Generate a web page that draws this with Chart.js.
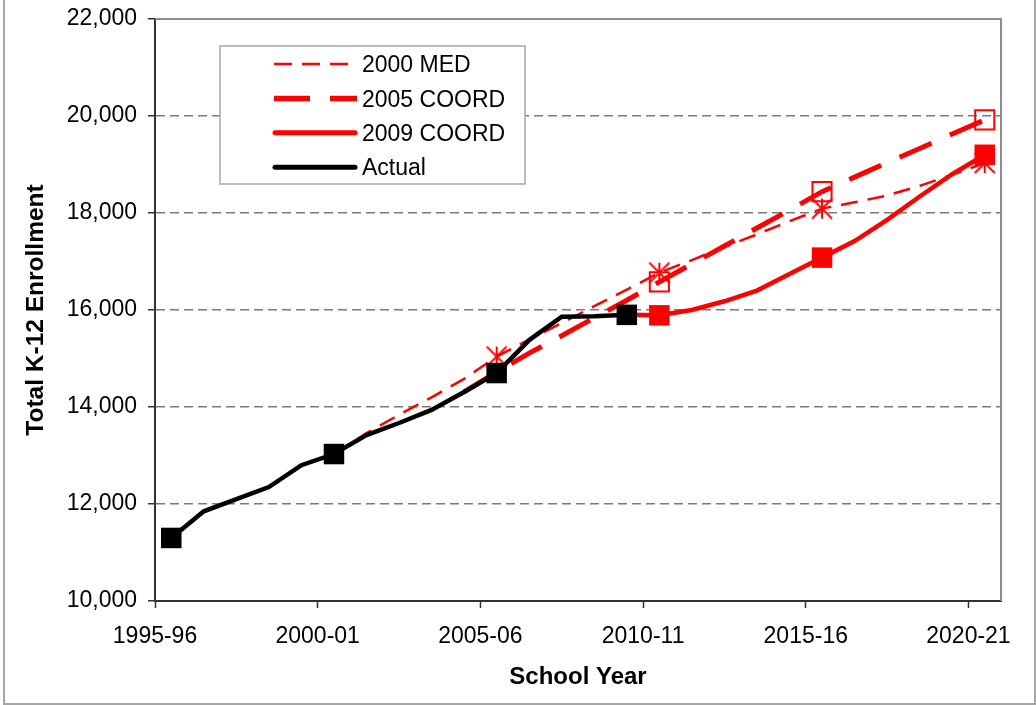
<!DOCTYPE html>
<html>
<head>
<meta charset="utf-8">
<title>Total K-12 Enrollment</title>
<script src="https://cdn.jsdelivr.net/npm/chart.js@4.4.1/dist/chart.umd.min.js"></script>
<style>
  html, body { margin: 0; padding: 0; background: #fff; }
  #wrap { width: 1036px; height: 705px; position: relative; }
  canvas { display: block; }
</style>
</head>
<body>
<div id="wrap"><canvas id="chart" width="1036" height="705"></canvas></div>
<script>
// School years on the category axis (one slot per year)
const schoolYears = [
  '1995-96','1996-97','1997-98','1998-99','1999-00','2000-01','2001-02','2002-03',
  '2003-04','2004-05','2005-06','2006-07','2007-08','2008-09','2009-10','2010-11',
  '2011-12','2012-13','2013-14','2014-15','2015-16','2016-17','2017-18','2018-19',
  '2019-20','2020-21'
];
// Labelled years along the x axis
const xTickLabels = ['1995-96','2000-01','2005-06','2010-11','2015-16','2020-21'];
// Enrollment gridline values
const yTickValues = [10000, 12000, 14000, 16000, 18000, 20000, 22000];

// Enrollment series (null = no value that year)
const actual = [
  11300, 11850, 12100, 12350, 12800, 13030, 13420, 13670, 13940, 14310,
  14700, 15380, 15860, 15870, 15900,
  null, null, null, null, null, null, null, null, null, null, null
];
const med2000 = [
  null, null, null, null, null,
  13030, 13460, 13840, 14200, 14580, 15040, 15390, 15730, 16080, 16420,
  16770, 17030, 17300, 17560, 17830, 18090, 18220, 18360, 18560, 18790, 19030
];
const coord2005 = [
  null, null, null, null, null, null, null, null, null,
  14310, 14720, 15110, 15470, 15840, 16200, 16580, 16950, 17320, 17690,
  18060, 18440, 18740, 19040, 19330, 19630, 19920
];
const coord2009 = [
  null, null, null, null, null, null, null, null, null, null, null, null, null, null,
  15900, 15890, 16000, 16180, 16400, 16740, 17080, 17420, 17860, 18340, 18800, 19200
];

// Years that carry a marker on each series
const actualMarks = ['1995-96', '2000-01', '2005-06', '2009-10'];
const med2000Marks = ['2005-06', '2010-11', '2015-16', '2020-21'];
const coord2005Marks = ['2010-11', '2015-16', '2020-21'];
const coord2009Marks = ['2010-11', '2015-16', '2020-21'];

const FONT = "'Liberation Sans', Arial, Helvetica, sans-serif";
const RED = '#ff0000';

// each year sits in the middle of its slot
function toPoints(values) {
  const pts = [];
  values.forEach((v, i) => {
    if (v !== null) pts.push({ x: i + 0.5, y: v, year: schoolYears[i] });
  });
  return pts;
}

function markRadius(list, r) {
  return ctx => (ctx.raw && list.includes(ctx.raw.year)) ? r : 0;
}

// asterisk marker: vertical stroke plus an X
function makeAsterisk(size, color, width) {
  const c = document.createElement('canvas');
  c.width = c.height = size + 4;
  const g = c.getContext('2d');
  const m = (size + 4) / 2, h = size / 2;
  g.strokeStyle = color;
  g.lineWidth = width;
  g.beginPath();
  g.moveTo(m, m - h); g.lineTo(m, m + h);
  g.moveTo(m - h, m - h); g.lineTo(m + h, m + h);
  g.moveTo(m + h, m - h); g.lineTo(m - h, m + h);
  g.stroke();
  return c;
}
const asteriskMark = makeAsterisk(20, RED, 2);

const legendRows = [
  { text: '2000 MED',   color: RED,    width: 2.5, dash: [18, 10], cap: 'butt' },
  { text: '2005 COORD', color: RED,    width: 5.5, dash: [36, 20], cap: 'butt' },
  { text: '2009 COORD', color: RED,    width: 5,   dash: [],       cap: 'round' },
  { text: 'Actual',     color: '#000', width: 5,   dash: [],       cap: 'round' }
];

const framePlugin = {
  id: 'frame',
  afterDraw(chart) {
    const { ctx, chartArea: a } = chart;
    ctx.save();
    // plot area border (top and right)
    ctx.strokeStyle = '#8c8c8c';
    ctx.lineWidth = 2;
    ctx.beginPath();
    ctx.moveTo(a.left, a.top);
    ctx.lineTo(a.right, a.top);
    ctx.lineTo(a.right, a.bottom);
    ctx.stroke();

    // outer chart frame
    ctx.strokeStyle = '#a6a6a6';
    ctx.lineWidth = 2;
    ctx.beginPath();
    ctx.moveTo(4, 0);
    ctx.lineTo(4, 704);
    ctx.lineTo(1035, 704);
    ctx.lineTo(1035, 0);
    ctx.stroke();

    // legend box
    const bx = 220, by = 46, bw = 305, bh = 138;
    ctx.fillStyle = '#fff';
    ctx.fillRect(bx, by, bw, bh);
    ctx.strokeStyle = '#a6a6a6';
    ctx.lineWidth = 1.5;
    ctx.strokeRect(bx, by, bw, bh);

    ctx.font = '23px ' + FONT;
    ctx.fillStyle = '#000';
    ctx.textAlign = 'left';
    ctx.textBaseline = 'alphabetic';
    legendRows.forEach((row, i) => {
      const y = by + 18 + i * 34.4;
      ctx.save();
      ctx.strokeStyle = row.color;
      ctx.lineWidth = row.width;
      ctx.lineCap = row.cap;
      ctx.setLineDash(row.dash);
      ctx.beginPath();
      ctx.moveTo(row.cap === 'round' ? 275 : 274, y);
      ctx.lineTo(row.cap === 'round' ? 355 : 357, y);
      ctx.stroke();
      ctx.restore();
      ctx.fillText(row.text, 362, y + 8.2);
    });
    ctx.restore();
  }
};

new Chart(document.getElementById('chart'), {
  type: 'line',
  data: {
    datasets: [
      {
        label: 'Actual',
        data: toPoints(actual),
        borderColor: '#000',
        borderWidth: 4.5,
        pointStyle: 'rect',
        pointRadius: markRadius(actualMarks, 14.5),
        pointBackgroundColor: '#000',
        pointBorderColor: '#000',
        pointBorderWidth: 0,
        order: 1
      },
      {
        label: '2009 COORD',
        data: toPoints(coord2009),
        borderColor: RED,
        borderWidth: 4.5,
        pointStyle: 'rect',
        pointRadius: markRadius(coord2009Marks, 14.5),
        pointBackgroundColor: RED,
        pointBorderColor: RED,
        pointBorderWidth: 0,
        order: 2
      },
      {
        label: '2005 COORD',
        data: toPoints(coord2005),
        borderColor: RED,
        borderWidth: 5,
        borderDash: [35, 20],
        pointStyle: 'rect',
        pointRadius: markRadius(coord2005Marks, 13.5),
        pointBackgroundColor: 'rgba(0,0,0,0)',
        pointBorderColor: RED,
        pointBorderWidth: 2,
        order: 3
      },
      {
        label: '2000 MED',
        data: toPoints(med2000),
        borderColor: RED,
        borderWidth: 2.5,
        borderDash: [17, 10],
        pointStyle: asteriskMark,
        pointRadius: markRadius(med2000Marks, 10),
        order: 4
      }
    ]
  },
  options: {
    responsive: false,
    animation: false,
    devicePixelRatio: 1,
    layout: { padding: { top: 19, right: 35, left: 0, bottom: 0 } },
    elements: { line: { tension: 0, fill: false } },
    plugins: {
      legend: { display: false },
      tooltip: { enabled: false }
    },
    scales: {
      x: {
        type: 'linear',
        min: 0,
        max: schoolYears.length,
        afterBuildTicks: s => {
          s.ticks = xTickLabels.map(l => ({ value: schoolYears.indexOf(l) }));
        },
        afterFit: s => { s.height = 104; s.paddingLeft = 0; s.paddingRight = 0; },
        ticks: {
          autoSkip: false,
          maxRotation: 0,
          padding: 15,
          color: '#000',
          font: { family: FONT, size: 23 },
          callback: v => schoolYears[v]
        },
        grid: {
          drawOnChartArea: false,
          drawTicks: true,
          tickLength: 7,
          tickColor: '#333',
          tickWidth: 1.5
        },
        border: { color: '#333', width: 2 },
        title: {
          display: true,
          text: 'School Year',
          color: '#000',
          font: { family: FONT, size: 24, weight: 'bold' },
          padding: { top: 0, bottom: 13 }
        }
      },
      y: {
        type: 'linear',
        min: yTickValues[0],
        max: yTickValues[yTickValues.length - 1],
        afterBuildTicks: s => { s.ticks = yTickValues.map(v => ({ value: v })); },
        afterFit: s => { s.width = 155; s.paddingTop = 0; s.paddingBottom = 0; },
        ticks: {
          padding: 11,
          color: '#000',
          font: { family: FONT, size: 23 },
          callback: v => v.toLocaleString('en-US')
        },
        grid: {
          color: c => (c.tick && (c.tick.value === yTickValues[0] ||
                                  c.tick.value === yTickValues[yTickValues.length - 1]))
                      ? 'rgba(0,0,0,0)' : '#7a7a7a',
          lineWidth: 1.5,
          drawTicks: true,
          tickLength: 7,
          tickColor: '#333',
          tickWidth: 1.5,
          tickBorderDash: []
        },
        border: { color: '#333', width: 2, dash: [9, 5] },
        title: {
          display: true,
          text: 'Total K-12 Enrollment',
          color: '#000',
          font: { family: FONT, size: 24.5, weight: 'bold' },
          padding: { top: 22, bottom: 0 }
        }
      }
    }
  },
  plugins: [framePlugin]
});
</script>
</body>
</html>
